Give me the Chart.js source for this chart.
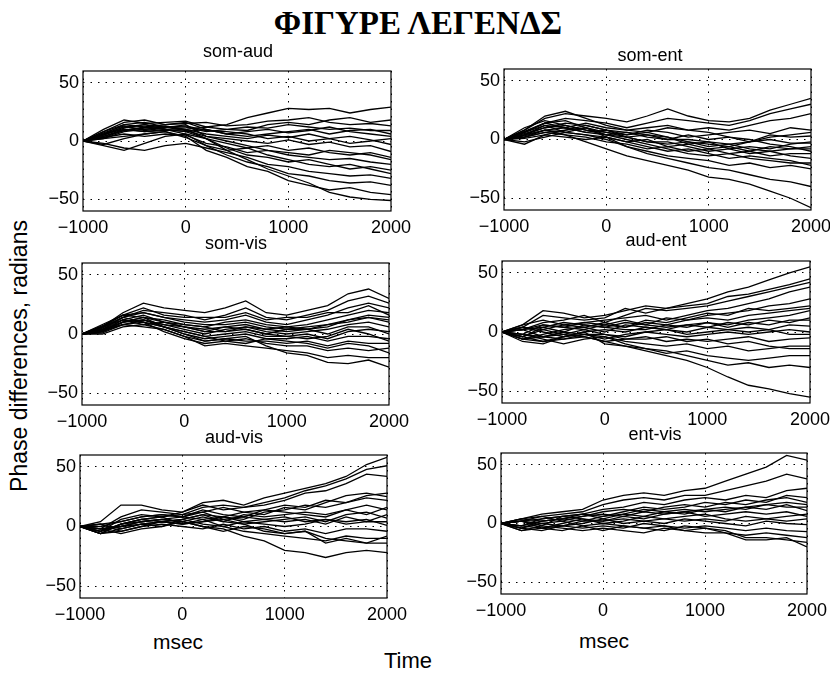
<!DOCTYPE html>
<html>
<head>
<meta charset="utf-8">
<title>Phase differences</title>
<script src="https://cdn.jsdelivr.net/npm/chart.js@4.4.1/dist/chart.umd.min.js"></script>
<style>
  body { margin: 0; background: #fff; }
  #page {
    position: relative; width: 830px; height: 676px; overflow: hidden;
    background: #fff; color: #000;
    font-family: "Liberation Sans", Arial, sans-serif;
  }
  canvas { position: absolute; }
  .lbl { position: absolute; white-space: nowrap; line-height: 1; transform: translate(-50%, -50%); }
  #figTitle { font-family: "Liberation Serif", "Times New Roman", serif; font-weight: bold; font-size: 33px; left: 418px; top: 23px; }
  .ptitle { font-size: 18px; }
  .msec { font-size: 21px; }
  #timeLbl { font-size: 22px; left: 408px; top: 661px; }
  #yLbl { font-size: 23px; left: 19px; top: 356px; transform: translate(-50%, -50%) rotate(-90deg); }
</style>
</head>
<body>
<div id="page">
  <div id="figTitle" class="lbl">ΦΙΓΥΡΕ ΛΕΓΕΝΔΣ</div>
  <div id="yLbl" class="lbl">Phase differences, radians</div>
  <div id="timeLbl" class="lbl">Time</div>
</div>

<script>
// ------------------------------------------------------------
// DATA (phase differences in radians, sampled every 200 ms)
// ------------------------------------------------------------

const timesMs = [-1000, -800, -600, -400, -200, 0, 200, 400, 600, 800, 1000, 1200, 1400, 1600, 1800, 2000];
const xTicks = [-1000, 0, 1000, 2000];
const yTicks = [-50, 0, 50];

const somAud = [
  [0, 10, 18, 15, 16, 17, 12, 14, 20, 24, 28, 27, 28, 24, 27, 29],
  [0, 8, 14, 12, 14, 15, 16, 13, 14, 17, 18, 20, 16, 14, 15, 13],
  [0, 6, 12, 10, 12, 12, 8, 10, 12, 11, 14, 12, 10, 11, 9, 9],
  [0, 4, 9, 12, 10, 8, 10, 6, 8, 10, 7, 9, 12, 8, 6, 4],
  [0, 6, 10, 8, 9, 10, 6, 4, 2, 5, 3, 6, 2, 4, 1, -3],
  [0, 2, 8, 10, 12, 9, 4, 2, 0, -2, 1, -3, -1, -5, -4, -9],
  [0, -4, -8, -2, 4, 6, 2, -2, -6, -4, -8, -6, -10, -12, -10, -14],
  [0, 3, 6, 4, 6, 5, -2, -5, -10, -8, -12, -14, -16, -15, -18, -20],
  [0, 5, 12, 14, 10, 8, 2, -6, -12, -14, -18, -16, -20, -24, -22, -25],
  [0, -2, -6, -8, -4, -2, -6, -10, -14, -20, -22, -26, -28, -30, -29, -32],
  [0, 4, 10, 8, 10, 6, -4, -12, -18, -22, -28, -30, -34, -36, -35, -38],
  [0, 2, 4, 6, 8, 4, -8, -14, -22, -26, -34, -38, -42, -40, -44, -46],
  [0, 6, 14, 16, 12, 10, 2, -8, -16, -24, -30, -36, -44, -48, -50, -51],
  [0, 8, 16, 18, 14, 16, 10, 6, 4, 6, 8, 10, 6, 9, 10, 6],
  [0, 5, 11, 14, 12, 13, 9, 8, 6, 2, 4, 0, 2, -2, 0, 2],
  [0, 7, 13, 9, 11, 14, 4, 0, -4, -8, -10, -12, -8, -10, -12, -16],
  [0, 3, 9, 11, 13, 10, 12, 10, 9, 14, 16, 14, 18, 20, 16, 18],
  [0, -3, 2, 6, 8, 3, -4, -8, -6, -12, -16, -20, -22, -20, -24, -28]
];

const somEnt = [
  [0, 8, 18, 22, 20, 18, 15, 20, 26, 20, 16, 15, 18, 25, 30, 35],
  [0, 6, 14, 18, 16, 14, 10, 14, 18, 16, 14, 12, 16, 22, 26, 30],
  [0, 4, 12, 10, 14, 10, 8, 6, 10, 8, 10, 8, 12, 16, 18, 22],
  [0, 10, 16, 12, 8, 6, 4, 8, 6, 2, 4, 6, 8, 5, 10, 8],
  [0, 2, 8, 10, 6, 4, 6, 2, 0, 4, 0, 2, -2, 4, 2, 3],
  [0, -4, 4, 8, 10, 6, 2, -2, -4, -2, -4, -6, -2, 0, -3, -3],
  [0, 6, 12, 6, 4, 2, -2, 0, -6, -4, -8, -6, -10, -6, -8, -8],
  [0, 2, 6, 4, 2, -2, -4, -8, -6, -10, -8, -12, -10, -14, -12, -12],
  [0, 4, 10, 12, 8, 4, 0, -4, -8, -12, -14, -12, -16, -18, -20, -20],
  [0, -2, 2, 6, 4, 0, -6, -10, -14, -16, -18, -22, -20, -24, -22, -25],
  [0, 6, 14, 16, 10, 2, -6, -12, -16, -20, -24, -26, -30, -34, -36, -40],
  [0, 4, 8, 4, -2, -8, -14, -18, -22, -26, -32, -34, -38, -44, -50, -58],
  [0, 8, 20, 24, 18, 12, 8, 10, 12, 8, 6, 2, 0, -4, -6, -10],
  [0, 2, 6, 8, 12, 8, 4, 6, 2, -4, -2, -4, -8, -10, -14, -16],
  [0, 5, 10, 14, 12, 8, 6, 4, 2, -2, -6, -4, -2, 2, 4, 6],
  [0, 3, 8, 6, 10, 4, 2, -2, -2, -6, -10, -8, -6, -8, -4, -2],
  [0, 7, 14, 10, 6, 8, 2, 4, 0, 0, -2, -8, -12, -10, -8, -6],
  [0, 1, 4, 2, 0, 2, -2, -6, -10, -8, -12, -16, -14, -16, -18, -22]
];

const somVis = [
  [0, 6, 18, 26, 22, 20, 18, 22, 28, 18, 16, 20, 24, 34, 38, 30],
  [0, 4, 14, 20, 18, 16, 12, 16, 22, 14, 12, 16, 20, 28, 32, 26],
  [0, 8, 16, 18, 14, 12, 10, 12, 16, 10, 8, 12, 16, 22, 26, 22],
  [0, 2, 10, 14, 12, 8, 6, 10, 12, 8, 6, 8, 12, 16, 20, 18],
  [0, 6, 12, 16, 10, 6, 4, 6, 8, 4, 2, 4, 6, 12, 14, 12],
  [0, 4, 8, 12, 8, 4, 0, 4, 6, 2, 0, 2, 4, 8, 10, 6],
  [0, 2, 10, 14, 6, 2, -2, 0, 2, -2, -2, 0, -4, 2, 4, 2],
  [0, 6, 14, 10, 6, 0, -4, -2, 0, -4, -4, -2, -6, -2, -2, -4],
  [0, 0, 6, 8, 4, -2, -6, -4, -6, -6, -8, -6, -10, -6, -8, -8],
  [0, 4, 12, 10, 2, -4, -8, -6, -4, -8, -10, -10, -14, -12, -14, -12],
  [0, 2, 8, 6, 4, -2, -10, -8, -10, -12, -14, -16, -20, -18, -20, -20],
  [0, 4, 10, 12, 6, 0, -6, -4, -2, -10, -16, -18, -24, -25, -22, -28],
  [0, 6, 16, 22, 16, 14, 14, 14, 18, 12, 14, 14, 18, 18, 24, 16],
  [0, 2, 12, 8, 10, 6, 2, 2, 4, 0, 4, 4, 0, 6, 6, 0],
  [0, 5, 14, 18, 14, 10, 8, 8, 10, 6, 4, 6, 8, 10, 14, 10],
  [0, 3, 10, 12, 8, 6, 2, 6, 4, 0, -2, -4, -2, 4, 0, -6],
  [0, 7, 16, 14, 10, 8, 6, 2, 6, 4, 6, 4, 8, 12, 16, 14],
  [0, 1, 8, 10, 6, 2, -2, -6, -8, -4, -6, -8, -12, -8, -10, -16]
];

const audEnt = [
  [0, 6, 18, 16, 12, 14, 18, 22, 20, 24, 28, 34, 38, 44, 50, 55],
  [0, 4, 14, 12, 10, 12, 20, 16, 20, 22, 24, 30, 32, 36, 40, 45],
  [0, 2, 8, 10, 14, 8, 14, 20, 18, 20, 22, 26, 30, 34, 38, 42],
  [0, 6, 10, 6, 8, 10, 12, 14, 10, 14, 18, 20, 24, 28, 34, 38],
  [0, -4, 4, 8, 6, 4, 8, 6, 12, 10, 14, 16, 18, 22, 24, 28],
  [0, 2, 6, 4, 2, 6, 4, 8, 6, 10, 12, 10, 14, 16, 18, 20],
  [0, -6, -2, 2, 4, 0, 6, 4, 2, 6, 8, 6, 10, 12, 14, 18],
  [0, 4, 0, -4, 0, 2, 0, 4, 2, 0, 4, 8, 6, 10, 8, 12],
  [0, -8, -10, -4, -2, -6, -2, 0, 2, -2, 0, 2, 4, 2, 6, 5],
  [0, 2, -4, -2, 2, -2, -4, 0, -2, -4, -2, 0, -2, 0, 2, 0],
  [0, -4, -8, -6, -4, -8, -6, -4, -8, -6, -8, -6, -4, -8, -6, -5],
  [0, -2, -6, -10, -6, -4, -8, -10, -12, -10, -14, -12, -16, -14, -12, -12],
  [0, -6, -8, -4, 0, -10, -12, -14, -18, -16, -20, -22, -24, -22, -20, -20],
  [0, -2, -4, 0, -2, -4, -10, -14, -16, -20, -24, -28, -26, -30, -28, -30],
  [0, 4, 2, -2, -4, -8, -12, -16, -20, -24, -30, -38, -45, -48, -52, -55],
  [0, -4, 2, 6, 4, 8, 4, 10, 8, 12, 16, 14, 20, 18, 20, 22],
  [0, 2, 4, 0, 6, 4, 2, 2, 6, 4, 8, 4, 8, 6, 10, 10],
  [0, -6, -4, -6, -2, -2, -6, -6, -4, -8, -6, -10, -8, -12, -14, -14],
  [0, -2, 6, 4, 8, 6, 10, 6, 4, 6, 4, 2, 0, 2, -2, -2]
];

const audVis = [
  [0, 4, 18, 18, 14, 12, 20, 22, 18, 24, 28, 32, 36, 42, 52, 58],
  [0, -2, 8, 14, 12, 10, 16, 18, 16, 20, 24, 30, 34, 40, 48, 51],
  [0, -4, 6, 10, 8, 12, 18, 14, 16, 18, 22, 28, 30, 36, 44, 42],
  [0, 2, 4, 8, 10, 8, 12, 16, 12, 10, 16, 14, 20, 26, 28, 25],
  [0, -6, 2, 6, 4, 6, 10, 8, 6, 12, 14, 18, 16, 20, 24, 22],
  [0, -2, 0, 4, 6, 4, 8, 4, 10, 8, 10, 12, 10, 14, 18, 14],
  [0, -4, 2, 6, 8, 2, 4, 6, 2, 4, 6, 8, 4, 10, 12, 7],
  [0, 2, -2, 2, 4, 6, 2, 0, 4, 2, 0, 2, 6, 4, 6, 1],
  [0, -6, -4, 0, 2, 0, -2, 2, -2, 0, -4, -2, -6, -2, -2, -4],
  [0, -2, 0, 2, 4, 2, 6, 0, -4, -6, -8, -10, -12, -8, -10, -10],
  [0, -4, 2, 4, 6, 4, 0, -2, -8, -12, -20, -22, -26, -22, -20, -22],
  [0, -6, -2, 2, 0, 6, 10, 4, 2, -4, -6, -4, -14, -10, -14, -8],
  [0, 0, 4, 8, 10, 8, 14, 10, 8, 14, 12, 10, 8, 14, 10, 16],
  [0, -4, 0, 4, 6, 8, 6, 8, 12, 14, 18, 16, 22, 20, 26, 28],
  [0, 2, -4, 0, 4, 2, 4, 8, 4, 6, 4, 6, 2, 8, 4, 4],
  [0, -2, -6, -2, 0, 4, 0, -4, 0, -2, -6, -4, -10, -12, -14, -14],
  [0, -6, 2, 6, 8, 10, 12, 6, 8, 6, 8, 4, 6, 2, 4, 10]
];

const entVis = [
  [0, 4, 8, 10, 12, 20, 24, 26, 24, 28, 30, 36, 42, 48, 58, 54],
  [0, 2, 6, 8, 10, 16, 20, 22, 20, 24, 24, 28, 32, 36, 42, 38],
  [0, -2, 4, 6, 8, 12, 14, 18, 16, 20, 22, 20, 24, 22, 28, 30],
  [0, 4, 6, 2, 6, 10, 12, 10, 14, 16, 14, 18, 16, 20, 22, 18],
  [0, -4, 2, 4, 2, 6, 8, 12, 10, 8, 12, 10, 14, 12, 16, 11],
  [0, 2, -2, 6, 4, 2, 6, 4, 8, 10, 6, 8, 10, 8, 10, 6],
  [0, -6, -4, 0, 4, 0, 2, 6, 4, 2, 4, 2, 6, 4, 2, 4],
  [0, 2, 0, -2, 0, 4, 0, 2, 0, 4, 2, 0, -2, 2, 0, -1],
  [0, -4, -6, -2, -4, -2, -4, 0, -2, -4, -2, -4, -6, -4, -6, -7],
  [0, -2, -4, -6, -2, -6, -2, -4, -6, -2, -4, -6, -12, -12, -14, -16],
  [0, -6, -2, -4, -6, -4, -6, -8, -4, -6, -8, -8, -14, -14, -12, -20],
  [0, 2, 4, 6, 8, 6, 10, 14, 12, 14, 18, 16, 20, 18, 24, 22],
  [0, -2, 2, 4, 6, 8, 6, 10, 8, 10, 12, 14, 12, 16, 18, 16],
  [0, 2, -4, -2, 2, 2, 4, 2, 4, 6, 8, 4, 2, 4, 6, 8],
  [0, -4, 0, 2, -2, 0, -2, -4, -2, -6, -4, -8, -10, -8, -10, -12],
  [0, 4, 2, 4, 8, 4, 8, 6, 10, 12, 10, 12, 14, 16, 14, 14]
];

// ------------------------------------------------------------
// PANEL LAYOUT (plot box edges in page pixels)
// ------------------------------------------------------------

const panels = [
  { title: "som-aud", series: somAud, L: 83,  T: 71,  R: 391, B: 211, tx: 238, ty: 51 },
  { title: "som-ent", series: somEnt, L: 504, T: 69,  R: 811, B: 210, tx: 650, ty: 55 },
  { title: "som-vis", series: somVis, L: 82,  T: 263, R: 389, B: 405, tx: 236, ty: 243 },
  { title: "aud-ent", series: audEnt, L: 502, T: 261, R: 810, B: 403, tx: 656, ty: 240 },
  { title: "aud-vis", series: audVis, L: 80,  T: 455, R: 387, B: 598, tx: 234, ty: 437, unit: { x: 178, y: 641 } },
  { title: "ent-vis", series: entVis, L: 501, T: 453, R: 807, B: 594, tx: 655, ty: 434, unit: { x: 604, y: 640 } }
];

const AXIS_W = 56;   // room left of the plot for y tick labels
const AXIS_H = 30;   // room below the plot for x tick labels
const PAD_TOP = 18;
const PAD_RIGHT = 28;

const tickFont = { family: "'Liberation Sans', Arial, sans-serif", size: 18 };

function formatTick(value) {
  return value < 0 ? "\u2212" + Math.abs(value) : String(value);
}

// draws the closed box round the plot, matlab style
const frameBox = {
  id: "frameBox",
  afterDraw(chart) {
    const { ctx, chartArea: a } = chart;
    ctx.save();
    ctx.strokeStyle = "#000";
    ctx.lineWidth = 1.2;
    ctx.strokeRect(a.left, a.top, a.right - a.left, a.bottom - a.top);
    ctx.restore();
  }
};

function addLabel(text, cls, x, y) {
  const div = document.createElement("div");
  div.className = "lbl " + cls;
  div.textContent = text;
  div.style.left = x + "px";
  div.style.top = y + "px";
  document.getElementById("page").appendChild(div);
}

function createPanel(panel) {
  const page = document.getElementById("page");
  const canvas = document.createElement("canvas");
  const w = panel.R - panel.L + AXIS_W + PAD_RIGHT;
  const h = panel.B - panel.T + PAD_TOP + AXIS_H;
  canvas.width = w;
  canvas.height = h;
  canvas.style.width = w + "px";
  canvas.style.height = h + "px";
  canvas.style.left = (panel.L - AXIS_W) + "px";
  canvas.style.top = (panel.T - PAD_TOP) + "px";
  page.appendChild(canvas);

  const datasets = panel.series.map(values => ({
    data: timesMs.map((t, i) => ({ x: t, y: values[i] })),
    borderColor: "#000",
    borderWidth: 1.3,
    pointRadius: 0,
    tension: 0,
    fill: false
  }));

  new Chart(canvas, {
    type: "line",
    data: { datasets },
    options: {
      responsive: false,
      animation: false,
      layout: { padding: { left: 0, top: PAD_TOP, right: PAD_RIGHT, bottom: 0 } },
      plugins: { legend: { display: false }, tooltip: { enabled: false } },
      scales: {
        x: {
          type: "linear",
          min: -1000,
          max: 2000,
          afterBuildTicks: s => { s.ticks = xTicks.map(v => ({ value: v })); },
          afterFit: s => { s.height = AXIS_H; },
          ticks: { color: "#000", font: tickFont, padding: 6, maxRotation: 0, autoSkip: false, callback: formatTick },
          grid: { color: "#000", lineWidth: 1, drawTicks: false },
          border: { display: false, dash: [1.5, 6] }
        },
        y: {
          type: "linear",
          min: -60,
          max: 60,
          afterBuildTicks: s => { s.ticks = yTicks.map(v => ({ value: v })); },
          afterFit: s => { s.width = AXIS_W; },
          ticks: { color: "#000", font: tickFont, padding: 4, autoSkip: false, callback: formatTick },
          grid: { color: "#000", lineWidth: 1, drawTicks: false },
          border: { display: false, dash: [1.5, 6] }
        }
      }
    },
    plugins: [frameBox]
  });

  addLabel(panel.title, "ptitle", panel.tx, panel.ty);
  if (panel.unit) {
    addLabel("msec", "msec", panel.unit.x, panel.unit.y);
  }
}

panels.forEach(createPanel);
</script>
</body>
</html>
